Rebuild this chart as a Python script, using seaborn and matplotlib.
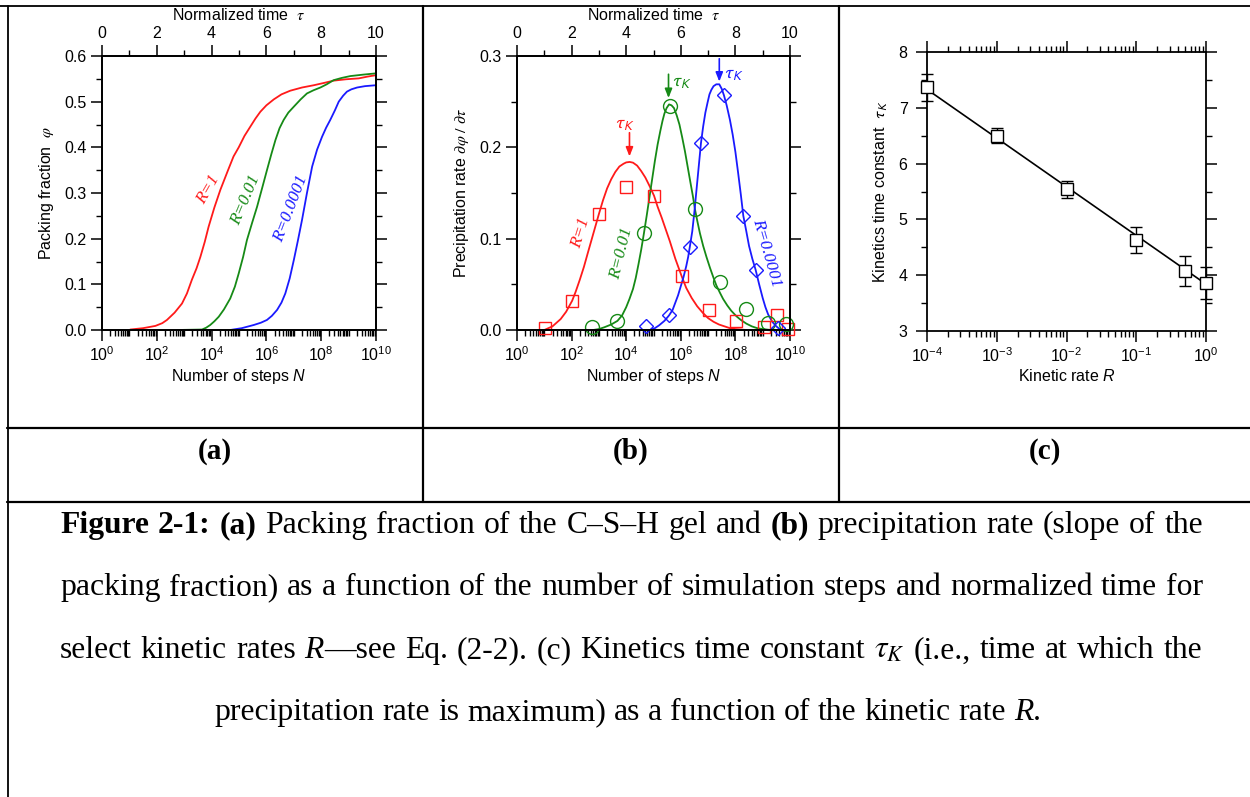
import numpy as np
import pandas as pd
import matplotlib
matplotlib.use("Agg")
import matplotlib.pyplot as plt
import seaborn as sns
from matplotlib.lines import Line2D
from matplotlib.ticker import LogLocator, MultipleLocator, FixedLocator, NullFormatter, FormatStrFormatter

# ---------------- data (x values stored as log10 of number of steps N = normalized time tau) ----------------
# Panel (a): packing fraction
a_red_tau = [1.03, 1.5, 1.95, 2.2, 2.37, 2.65, 2.92, 3.1, 3.28, 3.45, 3.59, 3.75, 3.89, 4.1, 4.32, 4.6, 4.8, 4.99,
             5.2, 5.41, 5.6, 5.78, 6.0, 6.27, 6.55, 6.87, 7.3, 7.73, 8.1, 8.45, 8.9, 9.37, 9.7, 10.0]
a_red_phi = [0.001, 0.004, 0.009, 0.015, 0.022, 0.038, 0.058, 0.080, 0.110, 0.135, 0.160, 0.193, 0.226, 0.268, 0.307,
             0.350, 0.380, 0.400, 0.425, 0.445, 0.463, 0.478, 0.492, 0.505, 0.516, 0.524, 0.531, 0.536, 0.541, 0.546,
             0.549, 0.551, 0.555, 0.558]
a_green_tau = [2.74, 3.65, 3.8, 3.95, 4.1, 4.26, 4.45, 4.68, 4.85, 4.99, 5.15, 5.29, 5.48, 5.66, 5.85, 6.02, 6.18,
               6.33, 6.48, 6.63, 6.8, 7.0, 7.25, 7.48, 7.72, 7.97, 8.2, 8.45, 8.75, 9.06, 9.5, 10.0]
a_green_phi = [0.000, 0.001, 0.005, 0.011, 0.019, 0.029, 0.045, 0.069, 0.095, 0.124, 0.160, 0.197, 0.235, 0.270, 0.312,
               0.350, 0.385, 0.416, 0.442, 0.460, 0.476, 0.489, 0.505, 0.518, 0.525, 0.531, 0.538, 0.547, 0.552, 0.556,
               0.559, 0.562]
a_blue_tau = [4.68, 5.1, 5.54, 5.8, 6.02, 6.2, 6.39, 6.55, 6.69, 6.85, 7.0, 7.15, 7.3, 7.48, 7.67, 7.85, 8.03, 8.18,
              8.33, 8.5, 8.64, 8.8, 8.94, 9.1, 9.31, 9.6, 10.0]
a_blue_phi = [0.000, 0.004, 0.011, 0.016, 0.022, 0.031, 0.044, 0.060, 0.080, 0.113, 0.153, 0.196, 0.241, 0.300, 0.358,
              0.395, 0.423, 0.443, 0.460, 0.481, 0.500, 0.513, 0.522, 0.527, 0.531, 0.534, 0.536]

# Panel (b): precipitation rate, fitted curves
b_red_tau = [1.0, 1.15, 1.3, 1.45, 1.6, 1.8, 2.02, 2.15, 2.3, 2.45, 2.6, 2.8, 3.0, 3.15, 3.3, 3.45, 3.6, 3.75, 3.9,
             4.0, 4.13, 4.25, 4.4, 4.55, 4.7, 4.85, 5.02, 5.15, 5.3, 5.45, 5.6, 5.8, 6.03, 6.2, 6.4, 6.6, 6.8, 7.0,
             7.2, 7.4, 7.6, 7.8, 8.0, 8.4]
b_red_rate = [0.0, 0.002, 0.004, 0.008, 0.012, 0.020, 0.032, 0.042, 0.055, 0.069, 0.085, 0.106, 0.127, 0.142, 0.155,
              0.165, 0.173, 0.179, 0.182, 0.1835, 0.184, 0.1832, 0.180, 0.174, 0.167, 0.158, 0.147, 0.135, 0.123,
              0.110, 0.097, 0.078, 0.059, 0.046, 0.035, 0.026, 0.019, 0.013, 0.009, 0.006, 0.004, 0.002, 0.001, 0.0]
b_green_tau = [2.79, 3.0, 3.2, 3.45, 3.68, 3.85, 4.0, 4.12, 4.25, 4.35, 4.45, 4.55, 4.65, 4.75, 4.85, 4.95, 5.05,
               5.15, 5.25, 5.33, 5.4, 5.48, 5.57, 5.66, 5.75, 5.85, 5.95, 6.05, 6.15, 6.25, 6.35, 6.44, 6.52, 6.6,
               6.7, 6.82, 6.94, 7.07, 7.2, 7.3, 7.43, 7.55, 7.7, 7.85, 8.04, 8.2, 8.4, 8.6, 8.8, 9.0, 9.3]
b_green_rate = [0.0, 0.001, 0.003, 0.006, 0.010, 0.016, 0.025, 0.034, 0.045, 0.057, 0.072, 0.088, 0.106, 0.125, 0.145,
                0.165, 0.185, 0.203, 0.218, 0.229, 0.237, 0.243, 0.247, 0.246, 0.243, 0.235, 0.225, 0.211, 0.196, 0.179,
                0.162, 0.147, 0.132, 0.120, 0.106, 0.092, 0.080, 0.068, 0.057, 0.049, 0.041, 0.034, 0.027, 0.021,
                0.015, 0.011, 0.007, 0.004, 0.002, 0.001, 0.0]
b_blue_tau = [4.87, 5.05, 5.2, 5.4, 5.57, 5.7, 5.8, 5.9, 6.0, 6.1, 6.2, 6.27, 6.33, 6.42, 6.5, 6.58, 6.66, 6.74, 6.82,
              6.9, 6.98, 7.05, 7.12, 7.2, 7.3, 7.41, 7.5, 7.58, 7.68, 7.8, 7.9, 8.0, 8.1, 8.2, 8.29, 8.4, 8.5, 8.62,
              8.74, 8.87, 9.0, 9.1, 9.2, 9.35, 9.5, 9.62, 9.76]
b_blue_rate = [0.0, 0.002, 0.005, 0.010, 0.016, 0.022, 0.030, 0.038, 0.048, 0.058, 0.070, 0.080, 0.091, 0.108, 0.130,
               0.155, 0.180, 0.205, 0.223, 0.238, 0.249, 0.258, 0.263, 0.267, 0.269, 0.269, 0.264, 0.257, 0.246, 0.230,
               0.214, 0.195, 0.172, 0.148, 0.125, 0.108, 0.092, 0.078, 0.066, 0.050, 0.035, 0.025, 0.017, 0.009,
               0.004, 0.001, 0.0]

# Panel (b): simulation points
b_red_pts_tau = [1.01, 2.02, 3.0, 4.01, 5.02, 6.03, 7.03, 8.02, 9.03, 9.53, 9.94]
b_red_pts_rate = [0.002, 0.032, 0.127, 0.157, 0.147, 0.059, 0.022, 0.010, 0.003, 0.016, 0.001]
b_green_pts_tau = [2.73, 3.68, 4.65, 5.60, 6.52, 7.43, 8.37, 9.20, 9.84]
b_green_pts_rate = [0.003, 0.010, 0.106, 0.245, 0.132, 0.053, 0.023, 0.008, 0.007]
b_blue_pts_tau = [4.74, 5.57, 6.33, 6.74, 7.58, 8.29, 8.74, 9.57]
b_blue_pts_rate = [0.004, 0.016, 0.091, 0.205, 0.257, 0.125, 0.066, 0.002]
b_tauK = [4.12, 5.55, 7.41]

# Panel (c): kinetics time constant
c_R = [1e-4, 1e-3, 1e-2, 1e-1, 0.5, 1.0]
c_tauK = [7.37, 6.50, 5.54, 4.63, 4.07, 3.86]
c_err = [0.24, 0.13, 0.15, 0.24, 0.27, 0.28]
c_fit_R = [1e-4, 1.0]
c_fit_tauK = [7.33, 3.84]

red, green, blue = "#ff1a1a", "#168a16", "#1a1aff"

# ---------------- style ----------------
sns.set_theme(style="white")
plt.rcParams["font.family"] = ["Liberation Sans", "DejaVu Sans"]
plt.rcParams["mathtext.fontset"] = "custom"
plt.rcParams["mathtext.rm"] = "Liberation Sans"
plt.rcParams["mathtext.it"] = "Liberation Sans:italic"
plt.rcParams["mathtext.bf"] = "Liberation Sans:bold"
plt.rcParams["axes.edgecolor"] = "black"
plt.rcParams["axes.linewidth"] = 1.3
plt.rcParams["text.color"] = "black"
plt.rcParams["axes.labelcolor"] = "black"

W, H = 1250, 797
fig = plt.figure(figsize=(W / 100, H / 100), dpi=100)
fig.patch.set_facecolor("white")


def fx(px):
    return px / W


def fy(py):
    return 1 - py / H


def box(l, t, r, b):
    return [fx(l), fy(b), (r - l) / W, (b - t) / H]


TS = 11.5


def style_common(ax):
    for s in ax.spines.values():
        s.set_visible(True)
        s.set_color("black")
        s.set_linewidth(1.3)
    ax.tick_params(which="major", direction="out", length=8, width=1.1, color="black",
                   labelsize=TS, labelcolor="black", pad=3)
    ax.tick_params(which="minor", direction="out", length=4.3, width=1.0, color="black")
    ax.set_facecolor("white")
    ax.grid(False)


def log_steps_axis(ax, ylim, ymaj, ymin, yfmt):
    ax.set_xscale("log")
    ax.set_xlim(1, 1e10)
    ax.set_ylim(*ylim)
    ax.xaxis.set_major_locator(FixedLocator([10.0 ** k for k in range(0, 11, 2)]))
    ax.xaxis.set_minor_locator(LogLocator(base=10, subs=np.arange(1, 10), numticks=100))
    ax.xaxis.set_minor_formatter(NullFormatter())
    ax.yaxis.set_major_locator(MultipleLocator(ymaj))
    ax.yaxis.set_minor_locator(MultipleLocator(ymin))
    ax.yaxis.set_major_formatter(FormatStrFormatter(yfmt))
    style_common(ax)
    ax.tick_params(axis="y", which="both", left=True, right=True, labelright=False)
    ax.tick_params(axis="x", which="both", bottom=True, top=False)
    ax.set_xlabel("Number of steps $\\mathit{N}$", fontsize=TS, labelpad=2)
    tw = ax.twiny()
    tw.set_xlim(0, 10)
    tw.xaxis.set_major_locator(MultipleLocator(2))
    tw.xaxis.set_minor_locator(MultipleLocator(1))
    style_common(tw)
    tw.tick_params(axis="x", which="both", top=True, bottom=False)
    tw.set_xlabel("Normalized time  $\\tau$", fontsize=TS, labelpad=4, math_fontfamily="stix")
    return tw


def N(taus):
    return 10.0 ** np.asarray(taus)


# ---------------- panel (a) ----------------
axA = fig.add_axes(box(102, 56, 376, 330))
for t, p, c in [(a_red_tau, a_red_phi, red), (a_green_tau, a_green_phi, green), (a_blue_tau, a_blue_phi, blue)]:
    sns.lineplot(x=N(t), y=p, ax=axA, color=c, lw=1.3, sort=False, errorbar=None)
log_steps_axis(axA, (0, 0.6), 0.1, 0.05, "%.1f")
axA.set_ylabel("Packing fraction  $\\varphi$", fontsize=TS, labelpad=6, math_fontfamily="stix")
lab_kw = dict(family="Liberation Serif", style="italic", fontsize=12.5, ha="center", va="center",
              rotation_mode="anchor")
axA.text(10 ** 3.9, 0.307, "R=1", color=red, rotation=60, **lab_kw)
axA.text(10 ** 5.23, 0.285, "R=0.01", color=green, rotation=67, **lab_kw)
axA.text(10 ** 6.88, 0.266, "R=0.0001", color=blue, rotation=69, **lab_kw)

# ---------------- panel (b) ----------------
axB = fig.add_axes(box(517, 56, 790, 330))
for t, r, c in [(b_red_tau, b_red_rate, red), (b_green_tau, b_green_rate, green), (b_blue_tau, b_blue_rate, blue)]:
    sns.lineplot(x=N(t), y=r, ax=axB, color=c, lw=1.3, sort=False, errorbar=None)
for t, r, c, m, ms in [(b_red_pts_tau, b_red_pts_rate, red, "s", 9),
                       (b_green_pts_tau, b_green_pts_rate, green, "o", 10),
                       (b_blue_pts_tau, b_blue_pts_rate, blue, "D", 7.5)]:
    sns.lineplot(x=N(t), y=r, ax=axB, linestyle="", marker=m, markersize=ms, markerfacecolor="none",
                 markeredgecolor=c, markeredgewidth=1.0, sort=False, errorbar=None, clip_on=False)
log_steps_axis(axB, (0, 0.3), 0.1, 0.05, "%.1f")
axB.set_ylabel("Precipitation rate $\\partial\\varphi\\ /\\ \\partial\\tau$", fontsize=TS, labelpad=6,
               math_fontfamily="stix")
axB.text(10 ** 2.33, 0.106, "R=1", color=red, rotation=73, **lab_kw)
axB.text(10 ** 3.83, 0.084, "R=0.01", color=green, rotation=76, **lab_kw)
axB.text(10 ** 9.14, 0.084, "R=0.0001", color=blue, rotation=-74, **lab_kw)
arrow_specs = [(b_tauK[0], 0.216, 0.190, red, (10 ** 3.95, 0.225)),
               (b_tauK[1], 0.280, 0.254, green, (10 ** 6.05, 0.271)),
               (b_tauK[2], 0.297, 0.272, blue, (10 ** 7.93, 0.280))]
for x0, y0, y1, c, tpos in arrow_specs:
    axB.annotate("", xy=(10 ** x0, y1), xytext=(10 ** x0, y0),
                 arrowprops=dict(arrowstyle="-|>,head_length=0.45,head_width=0.18", color=c, lw=1.2,
                                 shrinkA=0, shrinkB=0))
    axB.text(tpos[0], tpos[1], "$\\tau_K$", color=c, fontsize=13, ha="center", va="center",
             math_fontfamily="stixsans")

# ---------------- panel (c) ----------------
axC = fig.add_axes(box(927, 52, 1206, 331))
sns.lineplot(x=c_fit_R, y=c_fit_tauK, ax=axC, color="black", lw=1.2, sort=False, errorbar=None)
axC.errorbar(c_R, c_tauK, yerr=c_err, fmt="s", ms=9, mfc="white", mec="black", mew=1.0,
             ecolor="black", elinewidth=1.0, capsize=4, capthick=1.0, zorder=3, clip_on=False)
axC.set_xscale("log")
axC.set_xlim(1e-4, 1)
axC.set_ylim(3, 8)
axC.xaxis.set_major_locator(FixedLocator([1e-4, 1e-3, 1e-2, 1e-1, 1]))
axC.xaxis.set_minor_locator(LogLocator(base=10, subs=np.arange(1, 10), numticks=100))
axC.xaxis.set_minor_formatter(NullFormatter())
axC.yaxis.set_major_locator(MultipleLocator(1))
axC.yaxis.set_minor_locator(MultipleLocator(0.5))
style_common(axC)
axC.tick_params(axis="both", which="both", left=True, right=True, top=True, bottom=True,
                labelright=False, labeltop=False)
axC.tick_params(axis="y", which="major", pad=6)
axC.set_xlabel("Kinetic rate $\\mathit{R}$", fontsize=TS, labelpad=2)
axC.set_ylabel("Kinetics time constant  $\\tau_K$", fontsize=TS, labelpad=6, math_fontfamily="stixsans")

# ---------------- table frame ----------------
def hline(y, x0, x1, lw=1.5):
    fig.add_artist(Line2D([fx(x0), fx(x1)], [fy(y), fy(y)], color="black", lw=lw, transform=fig.transFigure))


def vline(x, y0, y1, lw=1.5):
    fig.add_artist(Line2D([fx(x), fx(x)], [fy(y0), fy(y1)], color="black", lw=lw, transform=fig.transFigure))


hline(6, 0, 1250, 1.3)
vline(7.5, 6, 797, 1.3)
vline(422.5, 6, 502, 1.6)
vline(839, 6, 502, 1.6)
hline(427.5, 7, 1250, 1.6)
hline(502, 7, 1250, 1.6)

SERIF = "Liberation Serif"
for cx, s in [(214.5, "(a)"), (630.5, "(b)"), (1044.5, "(c)")]:
    fig.text(fx(cx), fy(459), s, family=SERIF, fontweight="bold", fontsize=21, ha="center", va="baseline")

# ---------------- caption with mixed styles ----------------
renderer = fig.canvas.get_renderer()
CAP = 22.8
STY = {"r": dict(fontweight="normal", fontstyle="normal"),
       "b": dict(fontweight="bold", fontstyle="normal"),
       "i": dict(fontweight="normal", fontstyle="italic"),
       "m": dict(fontweight="normal", fontstyle="normal", math_fontfamily="stix")}


def caption_line(runs, baseline, justify=None, center=628):
    tokens = []
    for text, sty, gap in runs:
        words = [text] if sty == "m" else text.split(" ")
        for k, w in enumerate(words):
            tokens.append((w, sty, gap if k == 0 else True))
    arts, widths = [], []
    for w, sty, gap in tokens:
        t = fig.text(0, fy(baseline), w, family=SERIF, fontsize=CAP, ha="left", va="baseline", **STY[sty])
        arts.append(t)
        widths.append(t.get_window_extent(renderer=renderer).width)
    t1 = fig.text(0, 0, "x x", family=SERIF, fontsize=CAP)
    t2 = fig.text(0, 0, "xx", family=SERIF, fontsize=CAP)
    sp = t1.get_window_extent(renderer=renderer).width - t2.get_window_extent(renderer=renderer).width
    t1.remove()
    t2.remove()
    ngaps = sum(1 for k, tok in enumerate(tokens) if k > 0 and tok[2])
    total = sum(widths)
    if justify is not None:
        x0, x1 = justify
        gap = (x1 - x0 - total) / max(ngaps, 1)
        start = x0
    else:
        gap = sp
        start = center - (total + gap * ngaps) / 2
    x = start
    for k, (t, w, tok) in enumerate(zip(arts, widths, tokens)):
        if k > 0 and tok[2]:
            x += gap
        t.set_x(fx(x))
        x += w


caption_line([("Figure 2-1:", "b", False), ("(a)", "b", True), ("Packing fraction of the C\u2013S\u2013H gel and", "r", True),
              ("(b)", "b", True), ("precipitation rate (slope of the", "r", True)], 533, justify=(60, 1203))
caption_line([("packing fraction) as a function of the number of simulation steps and normalized time for", "r", False)],
             595, justify=(60, 1203))
caption_line([("select kinetic rates", "r", False), ("R", "i", True), ("\u2014see Eq. (2-2). (c) Kinetics time constant", "r", False),
              ("$\\tau_K$", "m", True), ("(i.e., time at which the", "r", True)], 658, justify=(60, 1202))
caption_line([("precipitation rate is maximum) as a function of the kinetic rate", "r", False), ("R", "i", True),
              (".", "r", False)], 720)

fig.savefig("out.png", dpi=100, facecolor="white")
